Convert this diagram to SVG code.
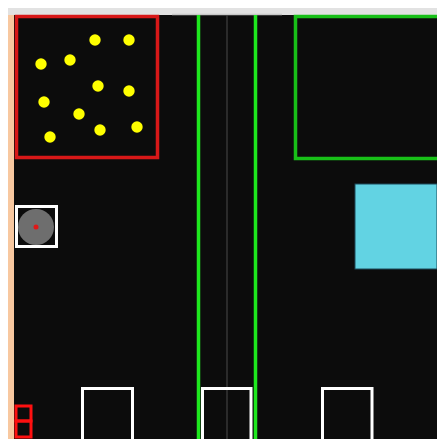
<svg xmlns="http://www.w3.org/2000/svg" width="437" height="439" viewBox="0 0 437 439">
<style>
.dot{fill:#ffff00}
.wbox{fill:none;stroke:#ffffff;stroke-width:3}
.gline{stroke:#1ee81e;stroke-width:3.5}
.rbox{fill:none;stroke:#ff1010;stroke-width:3}
</style>
<rect x="0" y="0" width="437" height="439" fill="#ffffff"/>
<rect x="8" y="8" width="429" height="7" fill="#e2e2e2"/>
<rect x="8" y="15" width="6" height="424" fill="#f8c8a0"/>
<rect x="14" y="15" width="423" height="424" fill="#0c0c0c"/>
<line x1="172" y1="14.5" x2="282" y2="14.5" stroke="#c8c8c8" stroke-width="1.5"/>
<g id="lanes">
<line x1="227" y1="15" x2="227" y2="439" stroke="#4a4a4a" stroke-width="1"/>
<line class="gline" x1="198.5" y1="15" x2="198.5" y2="439"/>
<line class="gline" x1="255.5" y1="15" x2="255.5" y2="439"/>
</g>
<g id="red-zone">
<rect x="16.5" y="16.5" width="141" height="141" fill="none" stroke="#d81818" stroke-width="3.5"/>
<circle class="dot" cx="95" cy="40" r="5.7"/>
<circle class="dot" cx="129" cy="40" r="5.7"/>
<circle class="dot" cx="41" cy="64" r="5.7"/>
<circle class="dot" cx="70" cy="60" r="5.7"/>
<circle class="dot" cx="98" cy="86" r="5.7"/>
<circle class="dot" cx="129" cy="91" r="5.7"/>
<circle class="dot" cx="44" cy="102" r="5.7"/>
<circle class="dot" cx="79" cy="114" r="5.7"/>
<circle class="dot" cx="100" cy="130" r="5.7"/>
<circle class="dot" cx="137" cy="127" r="5.7"/>
<circle class="dot" cx="50" cy="137" r="5.7"/>
</g>
<g id="green-zone">
<rect x="295.5" y="16.5" width="145" height="142" fill="none" stroke="#18c018" stroke-width="3.5"/>
</g>
<g id="robot">
<rect class="wbox" x="16.5" y="206.5" width="40" height="40"/>
<circle cx="36" cy="227" r="18" fill="#6e6e6e"/>
<circle cx="36" cy="227" r="2.5" fill="#e01818"/>
</g>
<g id="cyan-block">
<rect x="355" y="184" width="82" height="85" fill="#62d3e3" stroke="#1c4a5a" stroke-width="1"/>
</g>
<g id="base-1"><rect class="wbox" x="82.5" y="388.5" width="50" height="52"/></g>
<g id="base-2"><rect class="wbox" x="202.5" y="388.5" width="48.5" height="52"/></g>
<g id="base-3"><rect class="wbox" x="322.5" y="388.5" width="49.5" height="52"/></g>
<g id="small-red">
<rect class="rbox" x="16" y="406" width="15" height="15"/>
<rect class="rbox" x="16" y="421" width="15" height="16"/>
</g>
</svg>
